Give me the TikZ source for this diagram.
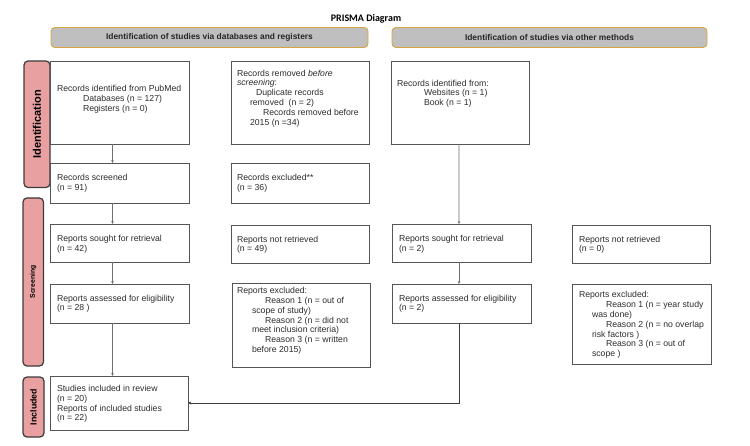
\documentclass[tikz,border=0pt]{standalone}
\usepackage{fontspec}
\setmainfont{Liberation Sans}
\newfontfamily\titlefont{Carlito}
\usetikzlibrary{arrows.meta}
\definecolor{barpink}{RGB}{232,160,160}
\definecolor{bardark}{RGB}{60,60,60}
\definecolor{headgray}{RGB}{191,191,191}
\definecolor{headgold}{RGB}{214,165,65}
\definecolor{boxgray}{RGB}{85,85,85}
\definecolor{arrgray}{RGB}{110,110,110}
\definecolor{txtgray}{RGB}{45,45,45}
\newcommand\prismalines[1]{\parbox[t]{160bp}{\raggedright #1}}
\begin{document}
\begin{tikzpicture}[x=1bp,y=-1bp,
  box/.style={draw=boxgray, line width=0.9bp, inner sep=0, outer sep=0, anchor=north west},
  sidebar/.style={draw=bardark, fill=barpink, line width=1.2bp, rounded corners=4bp, inner sep=0, outer sep=0, anchor=north west},
  head/.style={draw=headgold, fill=headgray, line width=0.9bp, rounded corners=4bp, inner sep=0, outer sep=0, anchor=north west},
  txt/.style={anchor=base west, inner sep=0, outer sep=0, text=txtgray, font=\fontsize{8.7bp}{9.8bp}\selectfont},
  bartxt/.style={rotate=90, inner sep=0, text=black, font=\bfseries},
  arr/.style={draw=arrgray, line width=0.8bp, -{Stealth[length=3bp,width=2.6bp]}},
  arrdark/.style={draw=bardark, line width=0.8bp, -{Stealth[length=3.2bp,width=3bp]}}]
\useasboundingbox[fill=white] (0,0) rectangle (750,446);

% title
\node[inner sep=0, font=\titlefont\bfseries\fontsize{10bp}{12bp}\selectfont] (title) at (366,19) {PRISMA Diagram};

% headers
\node[head, minimum width=317bp, minimum height=20bp] (h1) at (51,27.5) {};
\node[inner sep=0, font=\bfseries\fontsize{8.4bp}{10bp}\selectfont, text=black!85] (h1t) at (h1.center) {Identification of studies via databases and registers};
\node[head, minimum width=315bp, minimum height=20bp] (h2) at (392,27.5) {};
\node[inner sep=0, font=\bfseries\fontsize{8.4bp}{10bp}\selectfont, text=black!85] (h2t) at (h2.center) {Identification of studies via other methods};

% side bars
\node[sidebar, minimum width=26bp, minimum height=126.5bp] (bid) at (24,61) {};
\node[bartxt, font=\bfseries\fontsize{11bp}{13bp}\selectfont] (bidt) at (bid.center) {Identification};
\node[sidebar, minimum width=20.5bp, minimum height=168bp] (bsc) at (23,198) {};
\node[bartxt, font=\bfseries\fontsize{6.8bp}{8bp}\selectfont] (bsct) at (bsc.center) {Screening};
\node[sidebar, minimum width=21bp, minimum height=60bp] (bin) at (23,377) {};
\node[bartxt, font=\bfseries\fontsize{8.8bp}{10bp}\selectfont] (bint) at (bin.center) {Included};

% row 1
\node[box, minimum width=139bp, minimum height=83bp] (recA) at (50,61) {};
\node[txt] (recAt) at (57,91.5) {\prismalines{Records identified from PubMed\\\hspace*{26bp}Databases (n = 127)\\\hspace*{26bp}Registers (n = 0)}};
\node[box, minimum width=138bp, minimum height=83bp] (remB) at (231,61) {};
\node[txt] (remBt) at (237,76.2) {\prismalines{Records removed \textit{before}\\\textit{screening}:\\\hspace*{19bp}Duplicate records\\\hspace*{13bp}removed~ (n = 2)\\\hspace*{26bp}Records removed before\\\hspace*{13bp}2015 (n =34)}};
\node[box, minimum width=138bp, minimum height=83bp] (recC) at (391,61) {};
\node[txt] (recCt) at (397,86.2) {\prismalines{Records identified from:\\\hspace*{27bp}Websites (n = 1)\\\hspace*{27bp}Book (n = 1)}};

% row 2
\node[box, minimum width=139bp, minimum height=40bp] (scr) at (50,163) {};
\node[txt] (scrt) at (57,180.9) {\prismalines{Records screened\\(n = 91)}};
\node[box, minimum width=138bp, minimum height=40bp] (exc) at (231,163) {};
\node[txt] (exct) at (237,180.9) {\prismalines{Records excluded**\\(n = 36)}};

% row 3
\node[box, minimum width=139bp, minimum height=38bp] (sought) at (50,224) {};
\node[txt] (soughtt) at (57,241.5) {\prismalines{Reports sought for retrieval\\(n = 42)}};
\node[box, minimum width=138bp, minimum height=38bp] (notret) at (231,225) {};
\node[txt] (notrett) at (237,242.2) {\prismalines{Reports not retrieved\\(n = 49)}};
\node[box, minimum width=139bp, minimum height=38bp] (rsought) at (392,224) {};
\node[txt] (rsoughtt) at (399,241.5) {\prismalines{Reports sought for retrieval\\(n = 2)}};
\node[box, minimum width=138bp, minimum height=38bp] (rnotret) at (572,225) {};
\node[txt] (rnotrett) at (579,242.2) {\prismalines{Reports not retrieved\\(n = 0)}};

% row 4
\node[box, minimum width=139bp, minimum height=39bp] (assess) at (50,284) {};
\node[txt] (assesst) at (57,301.2) {\prismalines{Reports assessed for eligibility\\(n = 28 )}};
\node[box, minimum width=138bp, minimum height=84bp] (rexcl) at (232,283) {};
\node[txt] (rexclt) at (237,293.7) {\prismalines{Reports excluded:\\\hspace*{28bp}Reason 1 (n = out of\\\hspace*{15bp}scope of study)\\\hspace*{28bp}Reason 2 (n = did not\\\hspace*{15bp}meet inclusion criteria)\\\hspace*{28bp}Reason 3 (n = written\\\hspace*{15bp}before 2015)}};
\node[box, minimum width=139bp, minimum height=39bp] (rassess) at (392,284) {};
\node[txt] (rassesst) at (399,301.2) {\prismalines{Reports assessed for eligibility\\(n = 2)}};
\node[box, minimum width=139bp, minimum height=80bp] (rrexcl) at (572,284) {};
\node[txt] (rrexclt) at (579,297.9) {\prismalines{Reports excluded:\\\hspace*{27bp}Reason 1 (n = year study\\\hspace*{13bp}was done)\\\hspace*{27bp}Reason 2 (n = no overlap\\\hspace*{13bp}risk factors )\\\hspace*{27bp}Reason 3 (n = out of\\\hspace*{13bp}scope )}};

% included
\node[box, minimum width=138bp, minimum height=54bp] (incl) at (50,376) {};
\node[txt] (inclt) at (57,391.5) {\prismalines{Studies included in review\\(n = 20)\\Reports of included studies\\(n = 22)}};

% connectors
\draw[arr] ([xshift=-7bp]recA.south) -- ([xshift=-7bp]scr.north);
\draw[arr] ([xshift=-7bp]scr.south) -- ([xshift=-7bp]sought.north);
\draw[arr] ([xshift=-7bp]sought.south) -- ([xshift=-7bp]assess.north);
\draw[arr] ([xshift=-7bp]assess.south) -- ([xshift=-6.5bp]incl.north);
\draw[arr] ([xshift=-1bp]recC.south) -- ([xshift=-2.5bp]rsought.north);
\draw[arr] ([xshift=-2.5bp]rsought.south) -- ([xshift=-2.5bp]rassess.north);
\draw[arrdark] ([xshift=-2.5bp]rassess.south) |- (incl.east);
\end{tikzpicture}
\end{document}
